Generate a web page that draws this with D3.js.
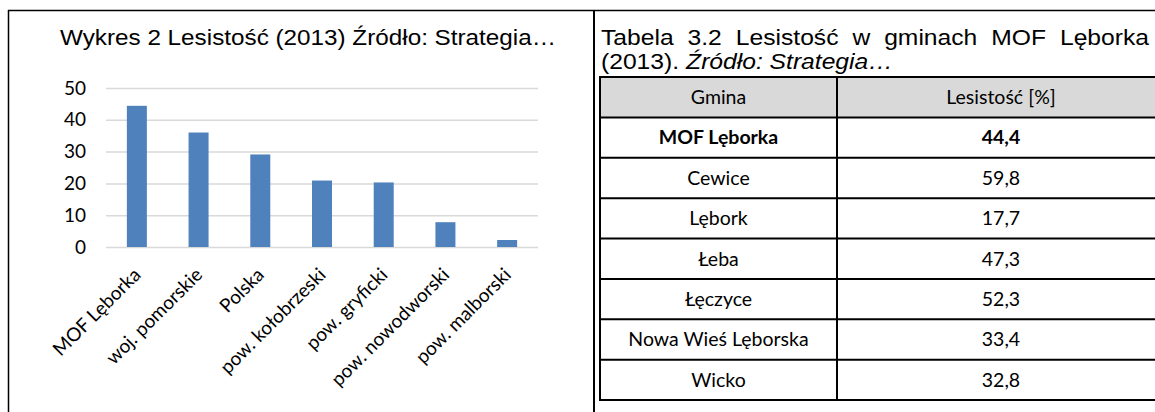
<!DOCTYPE html>
<html>
<head>
<meta charset="utf-8">
<script src="https://cdn.jsdelivr.net/npm/d3@7"></script>
<style>
  html, body { margin: 0; padding: 0; background: #fff; }
  svg { display: block; }
</style>
</head>
<body>
<svg id="chart"></svg>
<script>
// Wykres 2 + Tabela 3.2 - lesistość

const categories = ["MOF Lęborka", "woj. pomorskie", "Polska", "pow. kołobrzeski", "pow. gryficki", "pow. nowodworski", "pow. malborski"];
const values = [44.4, 36.0, 29.1, 20.9, 20.3, 7.8, 2.2];
const yTicks = [0, 10, 20, 30, 40, 50];

const tableHeader = ["Gmina", "Lesistość [%]"];
const gminy = ["MOF Lęborka", "Cewice", "Lębork", "Łeba", "Łęczyce", "Nowa Wieś Lęborska", "Wicko"];
const lesistosc = ["44,4", "59,8", "17,7", "47,3", "52,3", "33,4", "32,8"];

const width = 1155;
const height = 412;

const svg = d3.select("#chart")
    .attr("width", width)
    .attr("height", height);

// ramki
svg.append("line").attr("x1", 8).attr("x2", width).attr("y1", 10.5).attr("y2", 10.5)
    .attr("stroke", "#000").attr("stroke-width", 1.5);
svg.append("line").attr("x1", 8.5).attr("x2", 8.5).attr("y1", 10).attr("y2", height)
    .attr("stroke", "#000").attr("stroke-width", 1.5);
svg.append("line").attr("x1", 594).attr("x2", 594).attr("y1", 10).attr("y2", height)
    .attr("stroke", "#000").attr("stroke-width", 2);

const arial = "'Liberation Sans', Arial, sans-serif";
const calibri = "Lato, 'Open Sans', sans-serif";
const stretch = 1.12; // tekst w oryginale jest nieco rozciągnięty w poziomie

// tekst rozciągnięty do zadanej szerokości
function wideText(sel, factor) {
    const w = sel.node().getComputedTextLength();
    sel.attr("textLength", w * factor).attr("lengthAdjust", "spacingAndGlyphs");
    return w * factor;
}

// ---- wykres ----
const title = svg.append("text")
    .attr("x", 308).attr("y", 45)
    .attr("text-anchor", "middle")
    .style("font-family", arial)
    .style("font-size", "22px")
    .attr("fill", "#000")
    .text("Wykres 2 Lesistość (2013) Źródło: Strategia…");
wideText(title, 496 / title.node().getComputedTextLength());

const x = d3.scaleBand()
    .domain(categories)
    .range([106, 538])
    .paddingInner(0.676)
    .paddingOuter(0.338);

const y = d3.scaleLinear()
    .domain([0, 50])
    .range([247, 88]);

const yAxis = svg.append("g")
    .attr("transform", "translate(106,0)")
    .call(d3.axisLeft(y).tickValues(yTicks).tickSize(-432).tickPadding(20));
yAxis.select(".domain").remove();
yAxis.selectAll(".tick line").attr("stroke", "#d9d9d9").attr("stroke-width", 1.5);
yAxis.selectAll(".tick text")
    .style("font-family", calibri)
    .style("font-size", "19px")
    .attr("fill", "#000");

svg.append("g")
    .selectAll("rect")
    .data(values)
    .enter()
    .append("rect")
    .attr("x", (d, i) => x(categories[i]))
    .attr("y", d => y(d))
    .attr("width", x.bandwidth())
    .attr("height", d => y(0) - y(d))
    .attr("fill", "#4f81bd");

svg.append("g")
    .selectAll("text")
    .data(categories)
    .enter()
    .append("text")
    .attr("transform", d => `translate(${x(d) + x.bandwidth() / 2 + 5},${276}) rotate(-45)`)
    .attr("text-anchor", "end")
    .style("font-family", calibri)
    .style("font-size", "19px")
    .attr("fill", "#000")
    .text(d => d);

// ---- tabela ----
const capLeft = 601, capRight = 1149;

// pierwsza linia wyjustowana
const words = "Tabela 3.2 Lesistość w gminach MOF Lęborka".split(" ");
const wordNodes = words.map(w => svg.append("text")
    .attr("y", 45)
    .style("font-family", arial)
    .style("font-size", "22px")
    .attr("fill", "#000")
    .text(w));
const wordW = wordNodes.map(n => wideText(n, stretch));
const gap = (capRight - capLeft - d3.sum(wordW)) / (words.length - 1);
let cx = capLeft;
wordNodes.forEach((n, i) => { n.attr("x", cx); cx += wordW[i] + gap; });

const cap2a = svg.append("text")
    .attr("x", capLeft).attr("y", 69)
    .style("font-family", arial)
    .style("font-size", "22px")
    .attr("fill", "#000")
    .text("(2013).");
const w2a = wideText(cap2a, stretch);
const cap2b = svg.append("text")
    .attr("x", capLeft + w2a + 7).attr("y", 69)
    .style("font-family", arial)
    .style("font-size", "22px")
    .style("font-style", "italic")
    .attr("fill", "#000")
    .text("Źródło: Strategia…");
wideText(cap2b, stretch);

const rows = d3.range(gminy.length + 1);
const rowY = d3.scaleBand().domain(rows).range([77, 400]);
const colX = [600, 837, 1165];
const colMid = [(colX[0] + colX[1]) / 2, (colX[1] + colX[2]) / 2];

svg.append("rect")
    .attr("x", colX[0]).attr("y", rowY(0))
    .attr("width", colX[2] - colX[0]).attr("height", rowY.bandwidth())
    .attr("fill", "#d9d9d9");

const grid = svg.append("g").attr("stroke", "#000").attr("stroke-width", 2);
rows.concat([rows.length]).forEach(r => {
    const yy = r < rows.length ? rowY(r) : rowY.range()[1];
    grid.append("line").attr("x1", colX[0] - 1).attr("x2", colX[2]).attr("y1", yy).attr("y2", yy);
});
colX.forEach(cxx => {
    grid.append("line").attr("x1", cxx).attr("x2", cxx).attr("y1", rowY.range()[0]).attr("y2", rowY.range()[1]);
});

const tableRows = [tableHeader].concat(gminy.map((g, i) => [g, lesistosc[i]]));
tableRows.forEach((row, r) => {
    row.forEach((val, c) => {
        svg.append("text")
            .attr("x", colMid[c])
            .attr("y", rowY(r) + rowY.bandwidth() / 2)
            .attr("dy", "0.35em")
            .attr("text-anchor", "middle")
            .style("font-family", calibri)
            .style("font-size", "19.5px")
            .style("font-weight", r === 1 ? "bold" : "normal")
            .attr("fill", "#000")
            .text(val);
    });
});
</script>
</body>
</html>
